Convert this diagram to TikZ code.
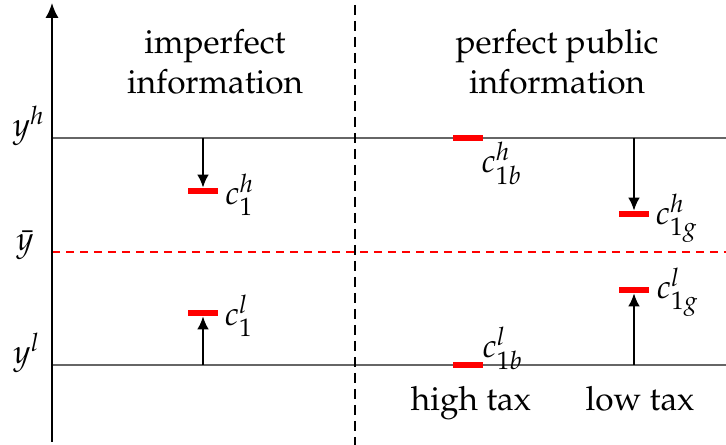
\documentclass[tikz,border=0pt]{standalone}
\usepackage[T1]{fontenc}
\usepackage{mathpazo}
\usetikzlibrary{arrows.meta,positioning}

\begin{document}
\begin{tikzpicture}[
    x=0.3pt,
    y=-0.3pt,
    font=\normalsize,
    >={Latex[length=3.9pt,width=3.5pt]},
    level/.style={draw=black!60, line width=0.45pt},
    cbar/.style={rectangle, fill=red, inner sep=0pt, minimum width=9pt, minimum height=1.6pt},
    move/.style={->, line width=0.6pt},
    head/.style={align=center, inner sep=0pt}
  ]
    \useasboundingbox (0,0) rectangle (726,445);

    % levels
    \coordinate (hl) at (52,138);
    \coordinate (hr) at (726,138);
    \coordinate (ml) at (52,252);
    \coordinate (mr) at (726,252);
    \coordinate (ll) at (52,365);
    \coordinate (lr) at (726,365);
    \draw[level] (hl) -- (hr);
    \draw[level] (ll) -- (lr);
    \draw[red, line width=0.4pt, dash pattern=on 2.4pt off 1.8pt] (ml) -- (mr);

    % axis and divider
    \coordinate (axbot) at (52,442);
    \coordinate (axtop) at (52,3);
    \draw[-{Latex[length=4.5pt,width=4pt]}, line width=0.65pt] (axbot) -- (axtop);
    \coordinate (divtop) at (355,5);
    \coordinate (divbot) at (355,445);
    \draw[line width=0.5pt, dash pattern=on 3pt off 1.8pt] (divtop) -- (divbot);

    \node[anchor=base] (yh) at (29,137) {$y^h$};
    \node[anchor=base] (ybar) at (25,251) {$\bar{y}$};
    \node[anchor=base] (yl) at (27,364) {$y^l$};

    \node[head] (imp) at (215,62) {imperfect\\information};
    \node[head] (ppi) at (557,62) {perfect public\\information};

    % imperfect information
    \coordinate (s1h) at (203,138);
    \coordinate (s1l) at (203,365);
    \node[cbar] (c1h) at (203,191) {};
    \node[cbar] (c1l) at (203,313) {};
    \draw[move] (s1h) -- (c1h.north);
    \draw[move] (s1l) -- (c1l.south);
    \node (c1hlab) at (240,195) {$c_1^h$};
    \node (c1llab) at (239,316) {$c_1^l$};

    % perfect public information
    \node[cbar] (cbh) at (468,138) {};
    \node[cbar] (cbl) at (468,365) {};
    \node (cbhlab) at (502,163) {$c_{1b}^h$};
    \node (cbllab) at (503,348) {$c_{1b}^l$};

    \coordinate (sgh) at (634,138);
    \coordinate (sgl) at (634,365);
    \node[cbar] (cgh) at (634,214) {};
    \node[cbar] (cgl) at (634,290) {};
    \draw[move] (sgh) -- (cgh.north);
    \draw[move] (sgl) -- (cgl.south);
    \node (cghlab) at (677,218) {$c_{1g}^h$};
    \node (cgllab) at (678,292) {$c_{1g}^l$};

    \node[anchor=base] (high) at (471,411) {high tax};
    \node[anchor=base] (low) at (640,411) {low tax};
  \end{tikzpicture}
\end{document}
